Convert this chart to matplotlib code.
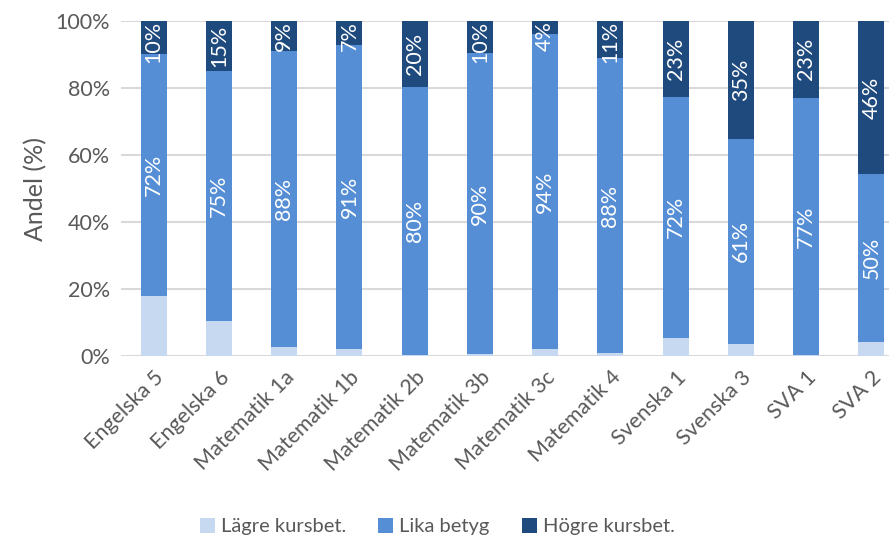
import matplotlib
matplotlib.use("Agg")
import matplotlib.pyplot as plt
import numpy as np
from matplotlib.ticker import FuncFormatter

plt.rcParams['font.family'] = ['Lato', 'DejaVu Sans']

categories = ["Engelska 5", "Engelska 6", "Matematik 1a", "Matematik 1b", "Matematik 2b",
              "Matematik 3b", "Matematik 3c", "Matematik 4", "Svenska 1", "Svenska 3",
              "SVA 1", "SVA 2"]
lagre = [17.9, 10.4, 2.8, 2.0, 0.3, 0.6, 2.0, 0.9, 5.4, 3.7, 0.3, 4.2]
lika = [72.4, 74.6, 88.2, 90.9, 80.1, 89.8, 94.0, 88.0, 72.0, 61.2, 76.8, 50.0]
hogre = [9.7, 15.0, 9.0, 7.1, 19.6, 9.6, 4.0, 11.1, 22.6, 35.1, 22.9, 45.8]
series_names = ["Lägre kursbet.", "Lika betyg", "Högre kursbet."]
colors = ["#C6D9F0", "#558ED5", "#1F4A7D"]

fig = plt.figure(figsize=(8.89, 5.40), dpi=100)
ax = fig.add_axes([0.1361, 0.3407, 0.8808, 0.6204])

x = np.arange(len(categories))
w = 0.4
b1 = ax.bar(x, lagre, w, color=colors[0], label=series_names[0], zorder=3)
b2 = ax.bar(x, lika, w, bottom=lagre, color=colors[1], label=series_names[1], zorder=3)
bottom3 = np.array(lagre) + np.array(lika)
b3 = ax.bar(x, hogre, w, bottom=bottom3, color=colors[2], label=series_names[2], zorder=3)

ax.set_xlim(-0.5, len(categories) - 0.5)
ax.set_ylim(0, 100)
ax.set_yticks(np.arange(0, 101, 20))
ax.yaxis.set_major_formatter(FuncFormatter(lambda v, p: f"{int(v)}%"))
ax.grid(axis='y', color='#D9D9D9', linewidth=1.5, zorder=0)
for s in ax.spines.values():
    s.set_visible(False)
ax.tick_params(axis='both', length=0, labelsize=15.5, labelcolor='#595959')
ax.tick_params(axis='y', pad=8)
ax.set_xticks(x)
ax.set_xticklabels(categories, rotation=45, ha='right', rotation_mode='anchor')
ax.tick_params(axis='x', pad=8)
ax.set_ylabel("Andel (%)", fontsize=18, color='#595959', labelpad=6)

texts = []
for i in range(len(categories)):
    mid2 = lagre[i] + lika[i] / 2
    ax.text(x[i], mid2, f"{round(lika[i])}%", rotation=90, ha='center', va='center',
            color='white', fontsize=15.5, zorder=4)
    mid3 = bottom3[i] + hogre[i] / 2
    t3 = ax.text(x[i], mid3, f"{round(hogre[i])}%", rotation=90, ha='center', va='center',
                 color='white', fontsize=15.5, zorder=4)
    texts.append(t3)

fig.canvas.draw()
r = fig.canvas.get_renderer()
inv = ax.transData.inverted()
top_px = ax.transData.transform((0, 100))[1]
for t in texts:
    bb = t.get_window_extent(r)
    if bb.y1 > top_px:
        shift = bb.y1 - top_px
        xd, yd = t.get_position()
        ypx = ax.transData.transform((xd, yd))[1] - shift
        t.set_position((xd, inv.transform((0, ypx))[1]))

leg = fig.legend(handles=[b1, b2, b3], labels=series_names, loc='center',
                 bbox_to_anchor=(0.492, 0.025), ncol=3, frameon=False, fontsize=14.5,
                 handlelength=0.75, handleheight=0.75, columnspacing=1.6, handletextpad=0.3)
for txt in leg.get_texts():
    txt.set_color('#595959')

fig.savefig("out.png", dpi=100)
